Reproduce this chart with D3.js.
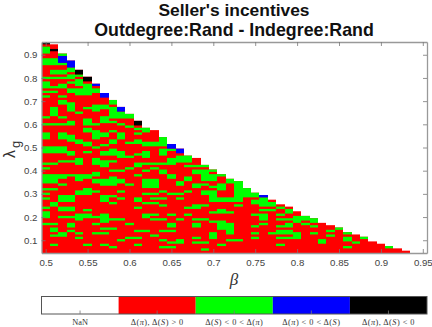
<!DOCTYPE html>
<html>
<head>
<meta charset="utf-8">
<script src="https://d3js.org/d3.v7.min.js"></script>
<style>
body { margin: 0; background: #fff; }
text { font-family: "Liberation Sans", Arial, sans-serif; }
.latex { font-family: "Liberation Serif", serif; font-size: 8.3px; fill: #333; }
</style>
</head>
<body>
<svg id="chart" width="432" height="327"></svg>
<script>
const width = 432, height = 327;

const betas = [0.5, 0.51, 0.52, 0.53, 0.54, 0.55, 0.56, 0.57, 0.58, 0.59, 0.6, 0.61, 0.62, 0.63, 0.64,
               0.65, 0.66, 0.67, 0.68, 0.69, 0.7, 0.71, 0.72, 0.73, 0.74, 0.75, 0.76, 0.77, 0.78, 0.79,
               0.8, 0.81, 0.82, 0.83, 0.84, 0.85, 0.86, 0.87, 0.88, 0.89, 0.9, 0.91, 0.92, 0.93];
const lambdaMin = 0.05, lambdaStep = 0.01;

// number of lambda rows filled in each beta column
const columnHeights = [91, 90, 86, 83, 79, 76, 73, 69, 66, 63, 60, 57, 54, 53, 50, 47, 45, 42, 41, 38, 36, 34,
                       32, 31, 28, 26, 25, 23, 21, 20, 18, 16, 15, 13, 12, 11, 9, 8, 7, 5, 4, 3, 2, 1];

// lambda rows (counted from the bottom) per column, everything else in the column is red
const greenRows = [
  "12 15-17 19 25 23 27 30-33 36 38 43-45 49-51 55 58 67 69 71-73 75 81-83 86-88",
  "3 7 9-10 12 20-21 27 30-33 38 43-45 55 59-62 69 71 75 77-78 81-83",
  "7-8 15 18-19 22-24 29 32-33 39 43-45 49-51 55 58 64-65 67 71-72 75 77-78 81 85",
  "9 11-12 15 18-19 22-24 33 39 42-43 48-50 55-56 61-64 69-70 73 75-76 78-79",
  "6 8 14-16 25-26 31-33 38-40 47-48 60 68-70 72-74 76",
  "3 15-16 18 25-26 27 32-33 43 46-47 52-53 55-57 62 68-72 74",
  "8 12 15 26 30-31 33-34 38-40 45 49-52 55 61-63 69-70",
  "3 8 10 13-16 22-24 29-31 37-39 42-43 46 50-51 56-57 58 62-63",
  "2 10 14 21 24 29-32 35 39 42-44 47-48 52 56 58-62 64-65",
  "5 14 23 26 30-31 35 41-43 49-51 55 58-60",
  "6 12 29 36 41 47 54 58-59",
  "3 6 9 19 22-23 33 37-38 42 47-48 51 53",
  "9 15-16 21 25 28-31 35 38 41-43 46-47 52-53",
  "7 14 16 21 23 25 28-31 36 38 46-47",
  "2 5 9 14 20 23 26 34-35 38 42-44 46-49",
  "2 4 9 11-12 16 25 32-33 38-40 44-46",
  "4-5 14 23 25 29-30 39-41",
  "16 19 26 31-32 37 39-41",
  "4 6 11-12 14 19-20 28-29 34-35 37",
  "1 4 14 20 25-26 29 31-33 34-35 37",
  "6-8 13 17 22-26 28 31-33 35",
  "3 10-13 17-18 22-23 27-29 33",
  "5 8-12 17 22-23 30-31",
  "5 20 22-23 24-27 28-30",
  "24-27",
  "6 8 11 16 21-22 24-25",
  "12 14-16 18 20-22 23",
  "8 18 20-21",
  "3 6 8-9 11 14 16 19",
  "6 8-9 11-12 14 17-18",
  "6-8 13-15",
  "12 14-15",
  "8 11 13-14",
  "4-5",
  "7 9",
  "10",
  "2 5-6 8",
  "4",
  "6",
  "",
  "",
  "2",
  "",
  ""
];

// top rows drawn in the two remaining classes: [column, first row, last row]
const blueRows = [[2, 82, 84], [3, 80, 82], [6, 72, 72], [7, 67, 68], [9, 61, 62], [15, 45, 46], [16, 43, 44], [26, 24, 24]];
const blackRows = [[0, 90, 90], [1, 87, 87], [4, 77, 78], [5, 74, 75], [11, 55, 56]];

const xTicks = [0.5, 0.55, 0.6, 0.65, 0.7, 0.75, 0.8, 0.85, 0.9, 0.95];
const yTicks = [0.1, 0.2, 0.3, 0.4, 0.5, 0.6, 0.7, 0.8, 0.9];
const classColors = ["#ffffff", "#ff0000", "#00ff00", "#0000ff", "#000000"];
const classNames = ["NaN", "pos", "gr", "bl", "neg"];

const margin = {left: 41.5, right: 5, top: 42, bottom: 74};

const svg = d3.select("#chart");

const x = d3.scaleLinear().domain([0.495, 0.955]).range([margin.left, width - margin.right]);
const y = d3.scaleLinear().domain([0.045, 0.955]).range([height - margin.bottom, margin.top]);

function parseRows(str) {
  if (!str) return [];
  let out = [];
  str.split(" ").forEach(part => {
    const p = part.split("-").map(Number);
    d3.range(p[0], (p[1] === undefined ? p[0] : p[1]) + 1).forEach(r => out.push(r));
  });
  return out;
}

// merge each column into runs of the same colour, red base goes first
let runs = [];
betas.forEach((beta, c) => {
  runs.push({beta: beta, r0: 0, r1: columnHeights[c] - 1, color: classColors[1]});
  const green = new Set(parseRows(greenRows[c]));
  let last = null;
  d3.range(columnHeights[c]).forEach(r => {
    let color = green.has(r) ? classColors[2] : classColors[1];
    blueRows.forEach(b => { if (b[0] === c && r >= b[1] && r <= b[2]) color = classColors[3]; });
    blackRows.forEach(b => { if (b[0] === c && r >= b[1] && r <= b[2]) color = classColors[4]; });
    if (color === classColors[1]) { last = null; return; }
    if (last && last.color === color) { last.r1 = r; }
    else { last = {beta: beta, r0: r, r1: r, color: color}; runs.push(last); }
  });
});

const lambdaOf = r => lambdaMin + r * lambdaStep;

svg.append("g")
   .selectAll("rect")
   .data(runs)
   .enter()
   .append("rect")
   .attr("x", d => Math.round(x(d.beta - 0.005)))
   .attr("y", d => y(lambdaOf(d.r1) + 0.005))
   .attr("width", d => Math.round(x(d.beta + 0.005)) - Math.round(x(d.beta - 0.005)))
   .attr("height", d => y(lambdaOf(d.r0) - 0.005) - y(lambdaOf(d.r1) + 0.005))
   .attr("fill", d => d.color);

// box axes, ticks point inward
const axisColor = "#777";
function styleAxis(g) {
  g.selectAll("path").attr("stroke", "#999").attr("stroke-width", 1.3);
  g.selectAll("line").attr("stroke", axisColor).attr("stroke-width", 0.8);
  g.selectAll("text").attr("fill", "#444").attr("font-size", 9.7);
}
const plotBottom = height - margin.bottom, plotRight = width - margin.right;

svg.append("g").attr("transform", `translate(0,${plotBottom})`)
   .call(d3.axisBottom(x).tickValues(xTicks).tickFormat(d => d).tickSize(-4).tickSizeOuter(0).tickPadding(6))
   .call(styleAxis);
svg.append("g").attr("transform", `translate(0,${margin.top})`)
   .call(d3.axisTop(x).tickValues(xTicks).tickFormat("").tickSize(-4).tickSizeOuter(0))
   .call(styleAxis);
svg.append("g").attr("transform", `translate(${margin.left},0)`)
   .call(d3.axisLeft(y).tickValues(yTicks).tickFormat(d => d).tickSize(-4).tickSizeOuter(0).tickPadding(4))
   .call(styleAxis);
svg.append("g").attr("transform", `translate(${plotRight},0)`)
   .call(d3.axisRight(y).tickValues(yTicks).tickFormat("").tickSize(-4).tickSizeOuter(0))
   .call(styleAxis);

// titles
svg.append("text").attr("x", 234).attr("y", 15.8).attr("text-anchor", "middle")
   .attr("font-size", 17.4).attr("font-weight", "bold").attr("fill", "#111")
   .text("Seller's incentives");
svg.append("text").attr("x", 234).attr("y", 35.5).attr("text-anchor", "middle")
   .attr("font-size", 17.8).attr("font-weight", "bold").attr("fill", "#111")
   .text("Outdegree:Rand - Indegree:Rand");

svg.append("text").attr("x", 234).attr("y", 284.5).attr("text-anchor", "middle")
   .attr("font-size", 17).attr("font-style", "italic").attr("fill", "#333")
   .style("font-family", "Liberation Serif")
   .text("β");

svg.append("text").attr("transform", "translate(15,158) rotate(-90)")
   .attr("fill", "#333").attr("font-size", 16).text("λ");
svg.append("text").attr("transform", "translate(20,148) rotate(-90)")
   .attr("fill", "#333").attr("font-size", 13).text("g");

// colorbar
const barTop = 296.5, barBottom = 314;
const barScale = d3.scaleBand().domain(classNames).range([margin.left, plotRight]);

svg.append("g").selectAll("rect")
   .data(classNames)
   .enter()
   .append("rect")
   .attr("x", d => barScale(d))
   .attr("y", barTop)
   .attr("width", barScale.bandwidth())
   .attr("height", barBottom - barTop)
   .attr("fill", (d, i) => classColors[i]);

svg.append("rect").attr("x", margin.left).attr("y", barTop)
   .attr("width", plotRight - margin.left).attr("height", barBottom - barTop)
   .attr("fill", "none").attr("stroke", "#555").attr("stroke-width", 1);

svg.append("g").selectAll("line")
   .data(classNames)
   .enter()
   .append("line")
   .attr("x1", d => barScale(d) + barScale.bandwidth() / 2)
   .attr("x2", d => barScale(d) + barScale.bandwidth() / 2)
   .attr("y1", barBottom)
   .attr("y2", barBottom - 3.5)
   .attr("stroke", "#777")
   .attr("stroke-width", 0.8);

// label pieces: [text, italic]
const D = "Δ(", P = "π", S = "S";
const barLabels = [
  [["NaN", 0]],
  [[D, 0], [P, 1], ["), " + D, 0], [S, 1], [") > 0", 0]],
  [[D, 0], [S, 1], [") < 0 < " + D, 0], [P, 1], [")", 0]],
  [[D, 0], [P, 1], [") < 0 < " + D, 0], [S, 1], [")", 0]],
  [[D, 0], [P, 1], ["), " + D, 0], [S, 1], [") < 0", 0]]
];

svg.append("g").selectAll("text")
   .data(barLabels)
   .enter()
   .append("text")
   .attr("class", "latex")
   .attr("x", (d, i) => barScale(classNames[i]) + barScale.bandwidth() / 2)
   .attr("y", 325)
   .attr("text-anchor", "middle")
   .attr("letter-spacing", (d, i) => i === 0 ? 0 : 0.45)
   .each(function(d) {
     d3.select(this).selectAll("tspan")
       .data(d)
       .enter()
       .append("tspan")
       .attr("font-style", p => p[1] ? "italic" : "normal")
       .text(p => p[0]);
   });
</script>
</body>
</html>
